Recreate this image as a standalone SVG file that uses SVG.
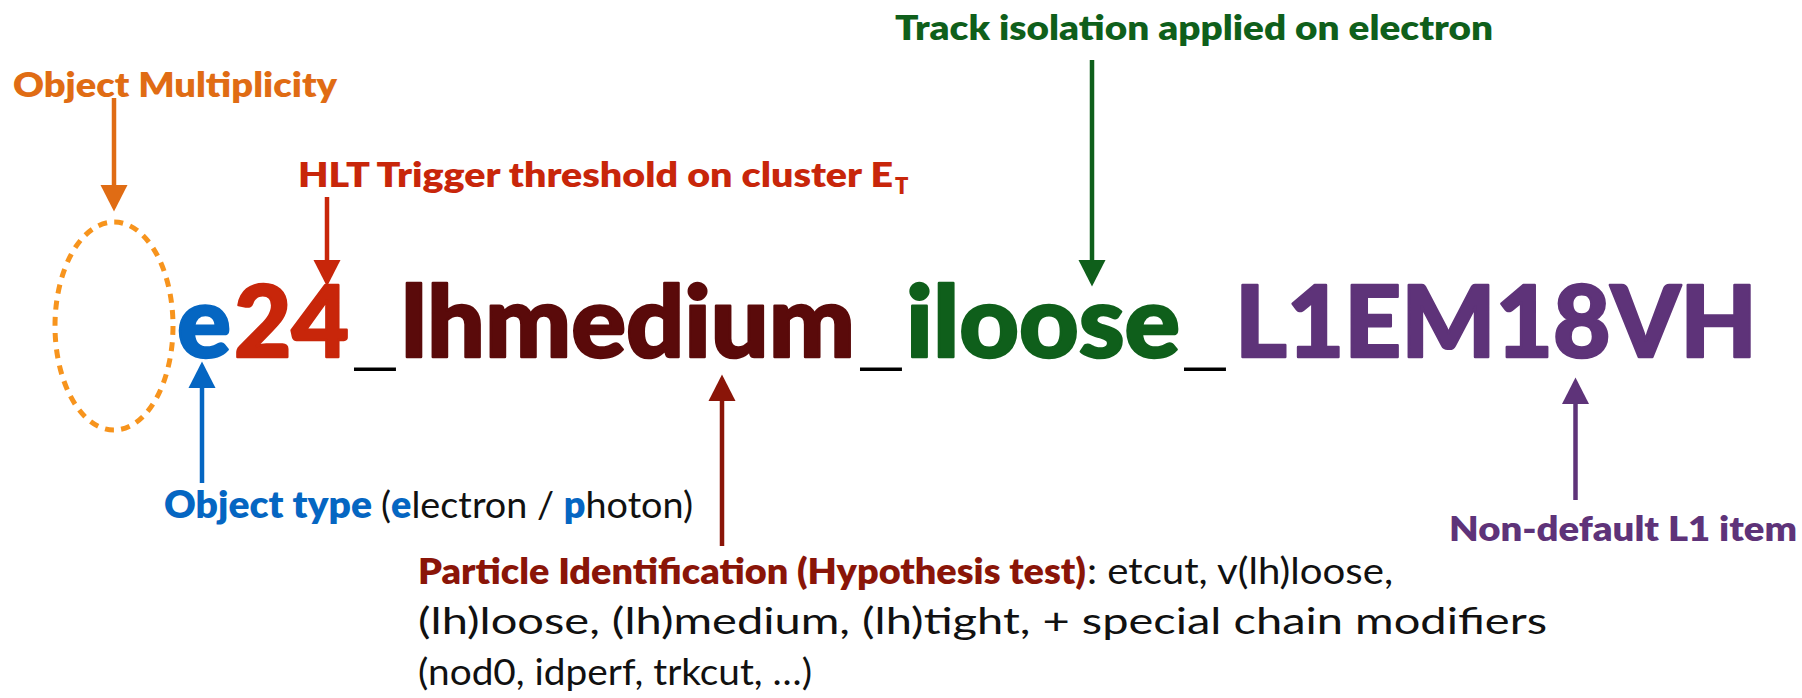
<svg xmlns="http://www.w3.org/2000/svg" width="1802" height="698" viewBox="0 0 1802 698">
<style>
text{font-family:Lato,"Liberation Sans",sans-serif}
.big{font-size:100px;font-weight:900;stroke-width:2.5;stroke-linejoin:round}
.us{font-size:40px;font-weight:900}
.lbl{font-size:33px;font-weight:800}
.reg{font-weight:400;fill:#111}
.bd{font-weight:800}
.blue{fill:#0566C2}
.red{fill:#C8260A}
.maroon{fill:#5A0A0A}
.green{fill:#0F5F1B}
.purple{fill:#5E3379}
.orange{fill:#E06C14}
.dred{fill:#8A1508}
.blk{fill:#000}
.sh{stroke-width:4.5;fill:none}
</style>
<defs>
<marker id="mO" markerUnits="userSpaceOnUse" markerWidth="27" markerHeight="28" viewBox="0 0 27 28" refX="0" refY="14" orient="auto"><path d="M0,0.5 L26.5,14 L0,27.5z" fill="#E06C14"/></marker>
<marker id="mR" markerUnits="userSpaceOnUse" markerWidth="27" markerHeight="28" viewBox="0 0 27 28" refX="0" refY="14" orient="auto"><path d="M0,0.5 L26.5,14 L0,27.5z" fill="#C8260A"/></marker>
<marker id="mG" markerUnits="userSpaceOnUse" markerWidth="27" markerHeight="28" viewBox="0 0 27 28" refX="0" refY="14" orient="auto"><path d="M0,0.5 L26.5,14 L0,27.5z" fill="#0F5F1B"/></marker>
<marker id="mB" markerUnits="userSpaceOnUse" markerWidth="27" markerHeight="28" viewBox="0 0 27 28" refX="0" refY="14" orient="auto"><path d="M0,0.5 L26.5,14 L0,27.5z" fill="#0566C2"/></marker>
<marker id="mD" markerUnits="userSpaceOnUse" markerWidth="27" markerHeight="28" viewBox="0 0 27 28" refX="0" refY="14" orient="auto"><path d="M0,0.5 L26.5,14 L0,27.5z" fill="#8A1508"/></marker>
<marker id="mP" markerUnits="userSpaceOnUse" markerWidth="27" markerHeight="28" viewBox="0 0 27 28" refX="0" refY="14" orient="auto"><path d="M0,0.5 L26.5,14 L0,27.5z" fill="#5E3379"/></marker>
</defs>
<rect width="1802" height="698" fill="#fff"/>

<g id="trigger-name">
<text class="big blue" stroke="#0566C2" x="177" y="357" textLength="54" lengthAdjust="spacingAndGlyphs">e</text>
<text class="big red" stroke="#C8260A" x="234" y="357" textLength="115" lengthAdjust="spacingAndGlyphs">24</text>
<text class="us blk" x="350" y="365" textLength="50" lengthAdjust="spacingAndGlyphs">_</text>
<text class="big maroon" stroke="#5A0A0A" x="401" y="357" textLength="454" lengthAdjust="spacingAndGlyphs">lhmedium</text>
<text class="us blk" x="856" y="365" textLength="50" lengthAdjust="spacingAndGlyphs">_</text>
<text class="big green" stroke="#0F5F1B" x="906" y="357" textLength="274" lengthAdjust="spacingAndGlyphs">iloose</text>
<text class="us blk" x="1180" y="365" textLength="50" lengthAdjust="spacingAndGlyphs">_</text>
<text class="big purple" stroke="#5E3379" x="1235" y="357" textLength="522" lengthAdjust="spacingAndGlyphs">L1EM18VH</text>
</g>

<g id="multiplicity">
<ellipse cx="114" cy="326" rx="59" ry="104" fill="none" stroke="#F7941D" stroke-width="5" stroke-dasharray="9 7.3"/>
<text class="lbl orange" x="13" y="97" textLength="324" lengthAdjust="spacingAndGlyphs">Object Multiplicity</text>
</g>

<g id="threshold">
<text class="lbl red" x="298" y="187" textLength="595" lengthAdjust="spacingAndGlyphs">HLT Trigger threshold on cluster E</text>
<text class="red" x="895" y="194" font-size="22" font-weight="800">T</text>
</g>

<g id="isolation">
<text class="lbl green" x="895" y="40" textLength="598" lengthAdjust="spacingAndGlyphs">Track isolation applied on electron</text>
</g>

<g id="object-type">
<text class="blue" x="164" y="518" font-size="37" font-weight="800" textLength="208" lengthAdjust="spacingAndGlyphs">Object type</text>
<text x="381" y="518" font-size="37" textLength="312" lengthAdjust="spacingAndGlyphs"><tspan class="reg">(</tspan><tspan class="blue bd">e</tspan><tspan class="reg">lectron / </tspan><tspan class="blue bd">p</tspan><tspan class="reg">hoton)</tspan></text>
</g>

<g id="particle-id">
<text class="dred bd" x="418" y="584" font-size="36" textLength="668" lengthAdjust="spacingAndGlyphs">Particle Identification (Hypothesis test)</text>
<text class="reg" x="1087" y="584" font-size="36" textLength="306" lengthAdjust="spacingAndGlyphs">: etcut, v(lh)loose,</text>
<text class="reg" x="418" y="634" font-size="36" textLength="1129" lengthAdjust="spacingAndGlyphs">(lh)loose, (lh)medium, (lh)tight, + special chain modifiers</text>
<text class="reg" x="418" y="685" font-size="36" textLength="394" lengthAdjust="spacingAndGlyphs">(nod0, idperf, trkcut, …)</text>
</g>

<g id="l1-item">
<text class="lbl purple" x="1449" y="541" textLength="348" lengthAdjust="spacingAndGlyphs">Non-default L1 item</text>
</g>

<g id="connectors">
<line class="sh" x1="114" y1="98" x2="114" y2="185" stroke="#E06C14" marker-end="url(#mO)"/>
<line class="sh" x1="327" y1="197" x2="327" y2="260" stroke="#C8260A" marker-end="url(#mR)"/>
<line class="sh" x1="1092" y1="60" x2="1092" y2="260" stroke="#0F5F1B" marker-end="url(#mG)"/>
<line class="sh" x1="202" y1="483" x2="202" y2="388" stroke="#0566C2" marker-end="url(#mB)"/>
<line class="sh" x1="722" y1="546" x2="722" y2="401" stroke="#8A1508" marker-end="url(#mD)"/>
<line class="sh" x1="1575.5" y1="500" x2="1575.5" y2="404" stroke="#5E3379" marker-end="url(#mP)"/>
</g>
</svg>
